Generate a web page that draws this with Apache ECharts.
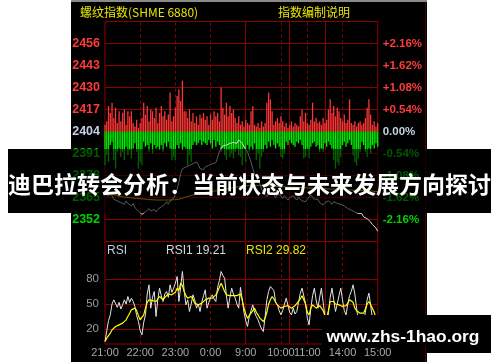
<!DOCTYPE html>
<html><head><meta charset="utf-8">
<script src="https://cdn.jsdelivr.net/npm/echarts@6/dist/echarts.min.js"></script>
<style>html,body{margin:0;padding:0;background:#fff}#c{width:500px;height:362px}</style>
</head><body><div id="c"></div>
<script>
// ---- tick labels ----
const priceLevels = [2456, 2443, 2430, 2417, 2404, 2391, 2378, 2365, 2352];
const pctLabels = ['+2.16%', '+1.62%', '+1.08%', '+0.54%', '0.00%', '-0.54%', '-1.08%', '-1.62%', '-2.16%'];
const baseLevel = 2404;
const rsiLevels = [80, 50, 20];
const timeTicks = ['21:00', '22:00', '23:00', '0:00', '9:00', '10:00', '11:00', '14:00', '15:00'];
const dashedTimes = ['22:00', '23:00', '0:00', '10:00', '11:00', '14:00'];
const solidTimes = ['9:00', '10:30', '13:30'];
const headerTexts = ['螺纹指数(SHME 6880)', '指数编制说明'];
const rsiReadout = ['RSI', 'RSI1 19.21', 'RSI2 29.82'];
const titleText = '迪巴拉转会分析：当前状态与未来发展方向探讨';
const watermark = 'www.zhs-1hao.org';

// ---- categories: 3-minute points of the trading sessions ----
const sessions = [[21 * 60, 80], [9 * 60, 25], [10 * 60 + 30, 20], [13 * 60 + 30, 31]];
const categories = [];
sessions.forEach(([start, n]) => {
  for (let k = 0; k < n; k++) {
    const t = start + 3 * k;
    const h = Math.floor(t / 60) % 24, m = t % 60;
    categories.push(h + ':' + (m < 10 ? '0' + m : m));
  }
});

// ---- series values ----
const price = [
2367,2368,2366,2367.5,2366,2364,2365,2363,2364,2362,
2362.5,2361,2363,2361.5,2361,2360,2361.5,2359,2359.5,2357,
2356,2355,2354.5,2356.5,2355.5,2358.5,2357,2356,2358,2356.5,
2358,2357,2359.5,2358.5,2361,2362.5,2361,2363,2362.5,2364.5,
2367,2370,2374,2379,2382,2381,2383,2382,2384,2383,
2385,2384,2386,2384.5,2382,2383,2381.5,2383,2382.5,2384,
2384,2385,2384,2385.5,2386,2392,2394,2395.5,2394.5,2396,
2395.5,2397,2396.5,2397.5,2398,2397,2399,2398.5,2397,2395,
2393.5,2392,2389,2386,2382,2379,2377,2375,2373,2370,
2368.5,2367,2365.5,2367,2366,2368,2366.5,2365,2367,2366,
2366,2364.5,2366,2365,2363.5,2365,2364,2366,2365,2363.5,
2365,2364.5,2363,2364,2362.5,2364,2365,2366.5,2366,2364,
2363,2364,2362,2361,2360.5,2362,2361,2363,2362,2361,
2362.5,2363,2361.5,2362,2361,2362,2360,2360.5,2358.5,2359,
2357.5,2358,2356.5,2357,2355.5,2354.5,2355.5,2353.5,2354,2352.5,
2353,2350.5,2349,2350,2347,2345];
const avgPrice = [
2368.5,2368.2,2367.8,2367.4,2367,2366.6,2366.3,2366,2365.8,2365.6,
2365.4,2365.2,2365.1,2365,2364.9,2364.8,2364.7,2364.6,2364.5,2364.4,
2364.3,2364.2,2364.1,2364,2363.9,2363.8,2363.7,2363.6,2363.6,2363.5,
2363.5,2363.5,2363.5,2363.5,2363.5,2363.5,2363.5,2363.5,2363.6,2363.6,
2363.7,2363.8,2364,2364.3,2364.6,2365,2365.3,2365.6,2365.9,2366.2,
2366.5,2366.8,2367,2367.2,2367.4,2367.6,2367.8,2368,2368.2,2368.3,
2368.5,2368.6,2368.8,2368.9,2369,2369.2,2369.4,2369.6,2369.8,2370,
2370.2,2370.4,2370.6,2370.8,2371,2371.2,2371.4,2371.5,2371.7,2371.8,
2371.9,2372,2372.1,2372.2,2372.2,2372.2,2372.2,2372.2,2372.1,2372.1,
2372,2372,2371.9,2371.8,2371.8,2371.7,2371.7,2371.6,2371.5,2371.5,
2371.4,2371.3,2371.3,2371.2,2371.2,2371.1,2371.1,2371,2371,2370.9,
2370.9,2370.8,2370.8,2370.7,2370.7,2370.6,2370.6,2370.5,2370.5,2370.4,
2370.4,2370.3,2370.3,2370.2,2370.2,2370.1,2370.1,2370,2370,2369.9,
2369.9,2369.8,2369.8,2369.7,2369.7,2369.6,2369.6,2369.5,2369.5,2369.4,
2369.4,2369.3,2369.3,2369.2,2369.2,2369.1,2369.1,2369,2369,2368.9,
2368.9,2368.8,2368.8,2368.7,2368.6,2368.5];
const redBars = [
4,6,15,11,17,8,14,5,12,6,
11,13,4,12,9,12,5,3,7,2,
5,8,17,10,15,6,13,12,8,14,
5,11,15,9,12,7,10,23,6,9,
14,21,25,18,30,12,12,8,13,6,
11,5,9,4,10,8,11,7,9,4,
10,7,12,9,11,6,26,14,10,17,
9,15,11,13,8,5,9,4,6,3,
7,5,4,12,15,4,3,5,2,6,
3,5,17,23,19,12,4,6,8,5,
9,6,3,5,2,4,6,3,5,4,
3,9,13,6,11,5,4,7,17,6,
8,5,6,4,8,5,7,13,19,11,
15,9,14,12,8,6,10,5,7,19,
5,4,6,3,5,6,4,5,8,14,
19,10,4,6,3,5];
const greenBars = [
-20,-14,-18,-8,-6,-17,-22,-12,-10,-15,
-12,-17,-9,-14,-11,-16,-10,-7,-12,-22,
-18,-20,-6,-9,-8,-12,-7,-13,-8,-10,
-9,-11,-8,-12,-7,-9,-6,-10,-17,-15,
-17,-8,-10,-7,-11,-9,-10,-20,-14,-18,
-8,-6,-8,-7,-5,-8,-6,-7,-8,-5,
-7,-10,-5,-9,-6,-8,-12,-10,-14,-17,
-11,-15,-13,-16,-12,-10,-14,-15,-20,-10,
-18,-8,-12,-9,-11,-7,-17,-13,-22,-15,
-12,-8,-10,-6,-9,-5,-8,-10,-7,-9,
-15,-16,-13,-6,-8,-5,-7,-8,-9,-6,
-7,-5,-8,-16,-15,-10,-16,-9,-7,-6,
-9,-8,-12,-10,-12,-7,-9,-6,-8,-10,
-17,-22,-18,-20,-15,-8,-6,-9,-7,-5,
-8,-14,-18,-20,-16,-12,-6,-8,-12,-15,
-10,-13,-8,-10,-7,-9];
const rsi1 = [
5,18,30,37,50,55,57,46,52,44,
49,55,50,59,52,57,53,47,36,29,
18,13,28,37,62,73,45,58,65,35,
55,69,60,53,62,65,58,73,64,69,
75,83,53,70,89,66,49,55,41,50,
61,55,45,50,41,52,60,67,45,52,
58,61,56,53,70,78,89,84,81,60,
45,58,69,62,57,50,45,70,55,40,
30,23,35,42,49,40,35,31,25,20,
17,35,55,65,71,73,66,52,49,42,
37,42,50,57,48,40,37,45,38,41,
52,63,69,71,50,33,25,45,60,69,
55,45,58,69,52,35,21,40,58,69,
55,41,50,60,69,55,42,37,50,60,
65,73,62,45,29,35,32,29,40,55,
63,48,33,25,21,19];
const rsi2 = [
5,9,12,15,19,21,23,22,25,24,
27,29,31,35,39,43,44,45,42,36,
31,31,37,45,52,55,57,54,55,53,
56,59,57,55,58,60,62,63,61,61,
64,69,66,75,72,65,60,57,58,59,
56,51,50,49,49,51,53,55,54,57,
58,57,59,61,65,70,75,70,65,61,
59,60,59,60,61,60,58,62,55,45,
38,33,36,37,42,45,40,37,33,31,
29,33,40,50,55,59,56,52,49,47,
45,45,47,49,48,46,45,47,48,50,
53,56,60,61,50,40,37,45,49,47,
45,47,48,49,42,36,33,42,53,54,
53,50,51,49,50,47,45,48,51,55,
57,52,45,42,40,39,39,39,44,50,
53,49,45,40,34,30];

// ---- styles ----
const GRID_RED = '#8c0000';
const RED = '#ff3a3a', GREEN = '#00d200', BASE = '#c6d0e4';
const NUM_FONT = 'Liberation Sans';
const CJK_FONT = 'Noto Sans CJK SC';
function levelColor(v) { return v > baseLevel ? RED : (v < baseLevel ? GREEN : BASE); }

const vLines = [];
dashedTimes.forEach(t => vLines.push({ xAxis: t, lineStyle: { type: [3, 3], color: GRID_RED, width: 1 }, label: { show: false } }));
solidTimes.forEach(t => vLines.push({ xAxis: t, lineStyle: { type: 'solid', color: GRID_RED, width: 1 }, label: { show: false } }));

const priceMarks = [];
priceLevels.forEach((v, k) => {
  const c = levelColor(v);
  priceMarks.push({ yAxis: v, label: { position: 'start', formatter: String(v), color: c, fontSize: 12.5, fontWeight: 'bold', fontFamily: NUM_FONT, distance: 5 } });
  priceMarks.push({ yAxis: v, label: { position: 'end', formatter: pctLabels[k], color: c, fontSize: 11.5, fontWeight: 'bold', fontFamily: NUM_FONT, distance: 5 } });
});
const rsiMarks = rsiLevels.map(v => ({ yAxis: v, label: { position: 'start', formatter: String(v), color: '#9a9a9a', fontSize: 11.5, fontFamily: NUM_FONT, distance: 6 } }));

function gridMarkLine(items) {
  return {
    silent: true, symbol: ['none', 'none'], z: 1, animation: false,
    lineStyle: { color: GRID_RED, width: 1, type: 'solid' },
    emphasis: { disabled: true },
    data: items.concat(vLines)
  };
}

const chart = echarts.init(document.getElementById('c'), null, { renderer: 'canvas' });
chart.setOption({
  animation: false,
  backgroundColor: '#ffffff',
  grid: [
    { left: 105, top: 21.5, width: 272.7, height: 220, show: true, borderColor: GRID_RED, borderWidth: 1, backgroundColor: 'transparent' },
    { left: 105, top: 241.5, width: 272.7, height: 102.5, show: true, borderColor: GRID_RED, borderWidth: 1, backgroundColor: 'transparent' }
  ],
  xAxis: [
    { type: 'category', gridIndex: 0, data: categories, boundaryGap: false, show: false },
    { type: 'category', gridIndex: 1, data: categories, boundaryGap: false,
      axisLine: { show: false }, axisTick: { show: false }, splitLine: { show: false },
      axisLabel: { interval: (i, v) => timeTicks.includes(v), color: '#a8a8a8', fontSize: 11, margin: 3, fontFamily: NUM_FONT, hideOverlap: false } }
  ],
  yAxis: [
    { type: 'value', gridIndex: 0, min: 2339, max: 2469, show: false },
    { type: 'value', gridIndex: 0, min: -65, max: 65, show: false },
    { type: 'value', gridIndex: 1, min: 2, max: 125, show: false }
  ],
  series: [
    { name: 'frame', type: 'line', xAxisIndex: 0, yAxisIndex: 0, data: avgPrice, z: 1, symbol: 'none',
      lineStyle: { opacity: 0 }, silent: true, markLine: gridMarkLine(priceMarks) },
    { name: 'up', type: 'bar', xAxisIndex: 0, yAxisIndex: 1, data: redBars, barWidth: 1.3, barGap: '-100%', z: 2,
      itemStyle: { color: '#ff3535' }, silent: true },
    { name: 'down', type: 'bar', xAxisIndex: 0, yAxisIndex: 1, data: greenBars, barWidth: 1.3, barGap: '-100%', z: 2,
      itemStyle: { color: '#00ee00' }, silent: true },
    { name: 'avg', type: 'line', xAxisIndex: 0, yAxisIndex: 0, data: avgPrice, z: 3, symbol: 'none', silent: true,
      lineStyle: { color: '#d8cc00', width: 1 } },
    { name: 'price', type: 'line', xAxisIndex: 0, yAxisIndex: 0, data: price, z: 4, symbol: 'none', silent: true,
      lineStyle: { color: '#d4d4d4', width: 1 } },
    { name: 'rsiFrame', type: 'line', xAxisIndex: 1, yAxisIndex: 2, data: rsi2, z: 1, symbol: 'none',
      lineStyle: { opacity: 0 }, silent: true, markLine: gridMarkLine(rsiMarks) },
    { name: 'RSI1', type: 'line', xAxisIndex: 1, yAxisIndex: 2, data: rsi1, z: 3, symbol: 'none', silent: true,
      lineStyle: { color: '#e6e6e6', width: 1 } },
    { name: 'RSI2', type: 'line', xAxisIndex: 1, yAxisIndex: 2, data: rsi2, z: 4, symbol: 'none', silent: true,
      lineStyle: { color: '#ffff00', width: 1.2 } }
  ],
  graphic: { elements: [
    { type: 'rect', silent: true, z: -100, shape: { x: 71, y: 0, width: 356, height: 362 }, style: { fill: '#000000' } },
    { type: 'rect', silent: true, z: -99, shape: { x: 71, y: 0, width: 356, height: 2 }, style: { fill: '#8a8a8a' } },
    { type: 'rect', silent: true, z: -99, shape: { x: 425, y: 2, width: 1, height: 360 }, style: { fill: '#500000' } },
    { type: 'text', silent: true, z: 10, x: 80, y: 12.5, style: { text: headerTexts[0], fill: '#e6e600', font: '12px "' + CJK_FONT + '"', textAlign: 'left', textVerticalAlign: 'middle' } },
    { type: 'text', silent: true, z: 10, x: 314, y: 12.5, style: { text: headerTexts[1], fill: '#e6e600', font: '12px "' + CJK_FONT + '"', textAlign: 'center', textVerticalAlign: 'middle' } },
    { type: 'text', silent: true, z: 10, x: 107, y: 251, style: { text: rsiReadout[0], fill: '#c4ccd6', font: '12px "' + NUM_FONT + '"', textAlign: 'left', textVerticalAlign: 'middle' } },
    { type: 'text', silent: true, z: 10, x: 166, y: 251, style: { text: rsiReadout[1], fill: '#d6d6d6', font: '12px "' + NUM_FONT + '"', textAlign: 'left', textVerticalAlign: 'middle' } },
    { type: 'text', silent: true, z: 10, x: 246, y: 251, style: { text: rsiReadout[2], fill: '#e6e600', font: '12px "' + NUM_FONT + '"', textAlign: 'left', textVerticalAlign: 'middle' } },
    // title band
    { type: 'rect', silent: true, z: 100, shape: { x: 8, y: 149, width: 63, height: 64 }, style: { fill: '#000000' } },
    { type: 'rect', silent: true, z: 100, shape: { x: 426, y: 149, width: 65, height: 64 }, style: { fill: '#000000' } },
    { type: 'rect', silent: true, z: 100, shape: { x: 71, y: 149, width: 355, height: 64 }, style: { fill: 'rgba(0,0,0,0.58)' } },
    { type: 'text', silent: true, z: 101, x: 249.5, y: 184, style: { text: titleText, fill: '#ffffff', font: 'bold 23px "' + CJK_FONT + '"', textAlign: 'center', textVerticalAlign: 'middle' } },
    // watermark
    { type: 'rect', silent: true, z: 100, shape: { x: 322, y: 315, width: 105, height: 31.5 }, style: { fill: '#000000' } },
    { type: 'rect', silent: true, z: 100, shape: { x: 426, y: 315, width: 65, height: 38 }, style: { fill: '#000000' } },
    { type: 'text', silent: true, z: 101, x: 403, y: 337, style: { text: watermark, fill: '#ffffff', font: 'bold 17.4px "' + NUM_FONT + '"', textAlign: 'center', textVerticalAlign: 'middle' } }
  ] }
});
</script></body></html>
